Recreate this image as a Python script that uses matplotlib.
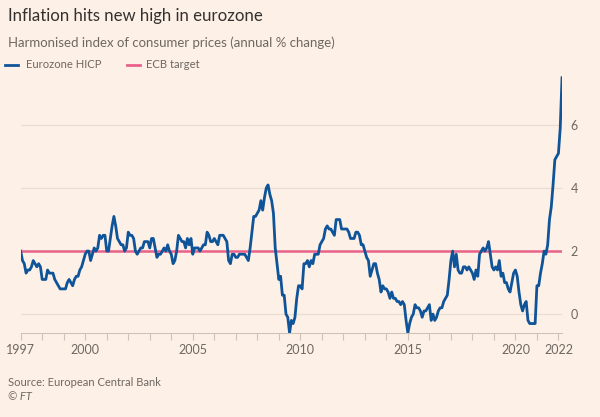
import numpy as np
import matplotlib
matplotlib.use("Agg")
import matplotlib.pyplot as plt

# Monthly euro area HICP, annual % change, Jan 1997 - Mar 2022
hicp = [
    # 1997
    2.0, 1.7, 1.6, 1.3, 1.4, 1.4, 1.5, 1.7, 1.6, 1.5, 1.6, 1.5,
    # 1998
    1.1, 1.1, 1.1, 1.4, 1.3, 1.3, 1.3, 1.1, 1.0, 0.9, 0.8, 0.8,
    # 1999
    0.8, 0.8, 1.0, 1.1, 1.0, 0.9, 1.1, 1.2, 1.2, 1.4, 1.5, 1.7,
    # 2000
    1.9, 2.0, 2.0, 1.7, 1.9, 2.1, 2.0, 2.1, 2.5, 2.4, 2.5, 2.5,
    # 2001
    2.0, 2.0, 2.4, 2.8, 3.1, 2.8, 2.4, 2.3, 2.2, 2.2, 2.0, 2.1,
    # 2002
    2.6, 2.5, 2.5, 2.4, 2.0, 1.9, 2.0, 2.1, 2.1, 2.3, 2.3, 2.3,
    # 2003
    2.1, 2.4, 2.4, 2.1, 1.8, 1.9, 1.9, 2.0, 2.1, 2.0, 2.2, 2.0,
    # 2004
    1.9, 1.6, 1.7, 2.0, 2.5, 2.4, 2.3, 2.3, 2.1, 2.4, 2.2, 2.4,
    # 2005
    1.9, 2.1, 2.1, 2.1, 2.0, 2.1, 2.2, 2.2, 2.6, 2.5, 2.3, 2.3,
    # 2006
    2.4, 2.3, 2.2, 2.5, 2.5, 2.5, 2.4, 2.3, 1.7, 1.6, 1.9, 1.9,
    # 2007
    1.8, 1.8, 1.9, 1.9, 1.9, 1.9, 1.8, 1.7, 2.1, 2.6, 3.1, 3.1,
    # 2008
    3.2, 3.3, 3.6, 3.3, 3.7, 4.0, 4.1, 3.8, 3.6, 3.2, 2.1, 1.6,
    # 2009
    1.1, 1.2, 0.6, 0.6, 0.0, -0.1, -0.6, -0.2, -0.3, -0.1, 0.5, 0.9,
    # 2010
    0.9, 0.8, 1.6, 1.6, 1.7, 1.5, 1.7, 1.6, 1.9, 1.9, 1.9, 2.2,
    # 2011
    2.3, 2.4, 2.7, 2.8, 2.7, 2.7, 2.6, 2.5, 3.0, 3.0, 3.0, 2.7,
    # 2012
    2.7, 2.7, 2.7, 2.6, 2.4, 2.4, 2.4, 2.6, 2.6, 2.5, 2.2, 2.2,
    # 2013
    2.0, 1.8, 1.7, 1.2, 1.4, 1.6, 1.6, 1.3, 1.1, 0.7, 0.9, 0.8,
    # 2014
    0.8, 0.7, 0.5, 0.7, 0.5, 0.5, 0.4, 0.4, 0.3, 0.4, 0.3, -0.2,
    # 2015
    -0.6, -0.3, -0.1, 0.0, 0.3, 0.2, 0.2, 0.1, -0.1, 0.1, 0.1, 0.2,
    # 2016
    0.3, -0.2, 0.0, -0.2, -0.1, 0.1, 0.2, 0.2, 0.4, 0.5, 0.6, 1.1,
    # 2017
    1.7, 2.0, 1.5, 1.9, 1.4, 1.3, 1.3, 1.5, 1.5, 1.4, 1.5, 1.4,
    # 2018
    1.3, 1.1, 1.4, 1.2, 1.9, 2.0, 2.1, 2.0, 2.1, 2.3, 1.9, 1.5,
    # 2019
    1.4, 1.5, 1.4, 1.7, 1.2, 1.3, 1.0, 1.0, 0.8, 0.7, 1.0, 1.3,
    # 2020
    1.4, 1.2, 0.7, 0.3, 0.1, 0.3, 0.4, -0.2, -0.3, -0.3, -0.3, -0.3,
    # 2021
    0.9, 0.9, 1.3, 1.6, 2.0, 1.9, 2.2, 3.0, 3.4, 4.1, 4.9, 5.0,
    # 2022
    5.1, 5.9, 7.5,
]
start_year = 1997
ecb_target = 2.0
x_tick_years = [1997, 2000, 2005, 2010, 2015, 2020, 2022]
y_ticks = [0, 2, 4, 6]

title = "Inflation hits new high in eurozone"
subtitle = "Harmonised index of consumer prices (annual % change)"
series_names = ["Eurozone HICP", "ECB target"]
source = "Source: European Central Bank"
credit = "\u00a9 FT"

BG = "#FDF0E6"
BLUE = "#0F5499"
PINK = "#E8628B"
TXT = "#33302E"
GREY = "#6E6862"

plt.rcParams['font.family'] = ['Lato', 'DejaVu Sans']

x = start_year + np.arange(len(hicp)) / 12.0

fig = plt.figure(figsize=(6.0, 4.17), dpi=100, facecolor=BG)
ax = fig.add_axes([0.0345, 0.2014, 0.9022, 0.6197])
ax.set_facecolor(BG)

ax.set_xlim(x[0], x[-1])
ax.set_ylim(-0.6, 7.6)

for yv in y_ticks:
    ax.axhline(yv, color="#EADDD2", lw=0.9, zorder=1)

ax.axhline(ecb_target, color=PINK, lw=1.8, zorder=2)
ax.plot(x, hicp, color=BLUE, lw=2.0, zorder=3, solid_joinstyle='round')

for s in ['top', 'left', 'right']:
    ax.spines[s].set_visible(False)
ax.spines['bottom'].set_color("#CFC3B8")
ax.spines['bottom'].set_linewidth(0.8)

ax.set_xticks(np.arange(1997, 2023), minor=True)
ax.set_xticks(x_tick_years)
ax.set_xticklabels([str(v) for v in x_tick_years])
ax.tick_params(axis='x', which='both', length=5, width=0.8, color="#CFC3B8",
               labelsize=9, labelcolor=GREY, pad=3)

ax.yaxis.tick_right()
ax.set_yticks(y_ticks)
ax.set_yticklabels([str(v) for v in y_ticks])
ax.tick_params(axis='y', length=0, labelsize=9, labelcolor=GREY, pad=6)

fig.text(0.013, 0.962, title, fontsize=12.1, color=TXT, va='center', ha='left')
fig.text(0.013, 0.897, subtitle, fontsize=9.5, color=GREY, va='center', ha='left')

# legend
ly = 1 - 64.5 / 417
fig.lines.append(plt.Line2D([5/600, 18/600], [ly, ly], color=BLUE, lw=2.0, transform=fig.transFigure))
fig.text(26/600, ly, series_names[0], fontsize=8.1, color=GREY, va='center', ha='left')
fig.lines.append(plt.Line2D([127/600, 140/600], [ly, ly], color=PINK, lw=2.0, transform=fig.transFigure))
fig.text(146/600, ly, series_names[1], fontsize=8.1, color=GREY, va='center', ha='left')

fig.text(0.013, 1 - 382/417, source, fontsize=8.0, color=GREY, va='center', ha='left')
fig.text(0.013, 1 - 397/417, credit, fontsize=8.0, color=GREY, va='center', ha='left', style='italic')

fig.savefig("out.png", dpi=100, facecolor=BG)
